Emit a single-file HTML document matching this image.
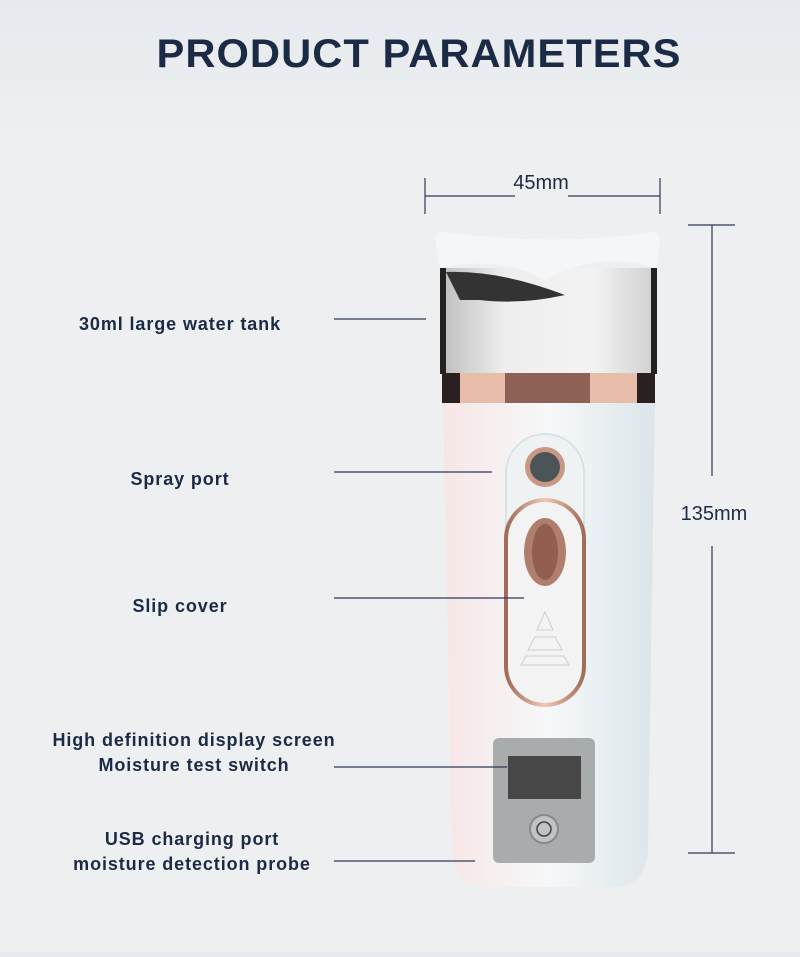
<!DOCTYPE html>
<html><head><meta charset="utf-8"><style>
html,body{margin:0;padding:0}
body{width:800px;height:952px;overflow:hidden;background:linear-gradient(#e6eaee 0,#eeeff1 140px,#eeeff1 100%);font-family:"Liberation Sans",sans-serif}
</style></head><body>
<svg width="800" height="952" viewBox="0 0 800 952" xmlns="http://www.w3.org/2000/svg">
<defs>
<linearGradient id="bd" x1="0" x2="1"><stop offset="0" stop-color="#f7e6e6"/><stop offset=".5" stop-color="#f6f8f9"/><stop offset="1" stop-color="#dbe6ea"/></linearGradient>
<linearGradient id="tk" x1="0" x2="1"><stop offset="0" stop-color="#bdbdbd"/><stop offset=".3" stop-color="#eeeeee"/><stop offset=".7" stop-color="#f3f3f3"/><stop offset="1" stop-color="#cfcfcf"/></linearGradient>
<linearGradient id="rg" x1="0" x2="1"><stop offset="0" stop-color="#a26a58"/><stop offset=".5" stop-color="#f0c7b5"/><stop offset="1" stop-color="#a26a58"/></linearGradient>
</defs>
<text x="419" y="67" text-anchor="middle" font-size="40" font-weight="bold" fill="#1c2b45" letter-spacing="1" textLength="525" lengthAdjust="spacingAndGlyphs">PRODUCT PARAMETERS</text>
<g stroke="#2c3a55" stroke-width="1.2" fill="none">
<line x1="425" y1="178" x2="425" y2="214"/><line x1="660" y1="178" x2="660" y2="214"/>
<line x1="425" y1="196" x2="515" y2="196"/><line x1="568" y1="196" x2="660" y2="196"/>
<line x1="688" y1="225" x2="735" y2="225"/><line x1="688" y1="853" x2="735" y2="853"/>
<line x1="712" y1="225" x2="712" y2="476"/><line x1="712" y1="546" x2="712" y2="853"/>
</g>
<text x="541" y="189" text-anchor="middle" font-size="20" fill="#1c2b45">45mm</text>
<text x="714" y="520" text-anchor="middle" font-size="20" fill="#1c2b45">135mm</text>
<path d="M443 400 L655 400 L648 850 Q646 885 615 887 L485 887 Q455 885 452 850 Z" fill="url(#bd)"/>
<rect x="440" y="268" width="217" height="106" fill="url(#tk)"/>
<rect x="440" y="268" width="6" height="106" fill="#222"/><rect x="651" y="268" width="6" height="106" fill="#222"/>
<path d="M446 272 Q500 270 565 295 Q520 305 480 300 L460 300 Z" fill="#333"/>
<rect x="442" y="373" width="213" height="30" fill="#e7bda9"/>
<rect x="505" y="373" width="85" height="30" fill="#8f6155"/>
<rect x="442" y="373" width="18" height="30" fill="#2a2020"/><rect x="637" y="373" width="18" height="30" fill="#2a2020"/>
<path d="M435 238 Q436 231 445 232 Q560 247 652 232 Q661 232 660 240 L656 268 Q600 250 545 280 Q500 255 440 268 Z" fill="#f4f6f7"/>
<rect x="506" y="434" width="78" height="270" rx="39" fill="#eef2f3" stroke="#d7e3e5" stroke-width="2"/>
<circle cx="545" cy="467" r="20" fill="#c99884"/><circle cx="545" cy="467" r="15" fill="#4b5558"/>
<rect x="506" y="500" width="78" height="205" rx="39" fill="#f3f3f3" stroke="url(#rg)" stroke-width="4"/>
<ellipse cx="545" cy="552" rx="21" ry="34" fill="#b07e6c"/><ellipse cx="545" cy="552" rx="13" ry="28" fill="#935e50"/>
<g fill="none" stroke="#cfcfcf"><path d="M545 612 L537 630 L553 630 Z"/><path d="M535 637 L555 637 L562 650 L528 650 Z"/><path d="M526 656 L564 656 L569 665 L521 665 Z"/></g>
<rect x="493" y="738" width="102" height="125" rx="6" fill="#a9acad"/>
<rect x="508" y="756" width="73" height="43" fill="#474747"/>
<circle cx="544" cy="829" r="14" fill="#c0c2c3" stroke="#888" stroke-width="2"/>
<circle cx="544" cy="829" r="7" fill="none" stroke="#444" stroke-width="1.5"/>
<g stroke="#2c3a55" stroke-width="1.2">
<line x1="334" y1="319" x2="426" y2="319"/><line x1="334" y1="472" x2="492" y2="472"/>
<line x1="334" y1="598" x2="524" y2="598"/><line x1="334" y1="767" x2="507" y2="767"/>
<line x1="334" y1="861" x2="475" y2="861"/>
</g>
<g font-size="18" font-weight="bold" fill="#1c2b45" text-anchor="middle" letter-spacing="0.9">
<text x="180" y="330">30ml large water tank</text>
<text x="180" y="485">Spray port</text>
<text x="180" y="612">Slip cover</text>
<text x="194" y="746">High definition display screen</text>
<text x="194" y="771">Moisture test switch</text>
<text x="192" y="845">USB charging port</text>
<text x="192" y="870">moisture detection probe</text>
</g>
</svg>
</body></html>
